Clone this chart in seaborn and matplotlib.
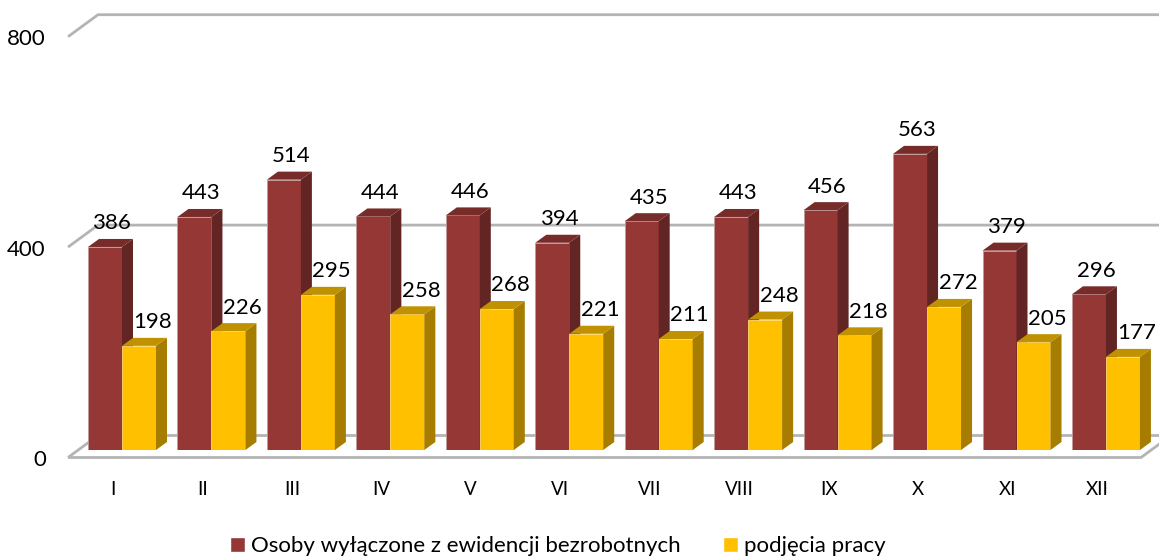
"""Monthly deregistrations from the unemployment register, drawn as pseudo-3D bars."""

import matplotlib
matplotlib.use("Agg")
import matplotlib.pyplot as plt
import pandas as pd
import seaborn as sns
from matplotlib.patches import Polygon
from matplotlib.transforms import ScaledTranslation

months = ["I", "II", "III", "IV", "V", "VI", "VII", "VIII", "IX", "X", "XI", "XII"]
removed = [386, 443, 514, 444, 446, 394, 435, 443, 456, 563, 379, 296]
hired = [198, 226, 295, 258, 268, 221, 211, 248, 218, 272, 205, 177]
series_names = ["Osoby wyłączone z ewidencji bezrobotnych", "podjęcia pracy"]
y_ticks = [0, 400, 800]

front_colors = ["#953735", "#FFC000"]
side_colors = ["#632523", "#A67D00"]
top_colors = ["#772C2A", "#C09100"]
edge_colors = ["#C49A99", "#FFD970"]
grid_color = "#B4B4B4"

W, H, DPI = 1159, 557, 100
PX_X = 89.45  # pixels per category
PX_Y = 0.526  # pixels per value unit


def px_dx(px):
    return px / PX_X


def px_dy(px):
    return px / PX_Y


sns.set_theme(style="white")
plt.rcParams["font.family"] = ["Lato", "DejaVu Sans"]

df = pd.DataFrame({
    "month": months * 2,
    "value": removed + hired,
    "series": [series_names[0]] * 12 + [series_names[1]] * 12,
})

fig = plt.figure(figsize=(W / DPI, H / DPI), dpi=DPI)
ax = fig.add_axes([68 / W, (H - 450) / H, (W - 68) / W, 450 / H])

sns.barplot(data=df, x="month", y="value", hue="series", palette=front_colors,
            width=0.76, gap=0, saturation=1, ax=ax, zorder=3)

ax.set_xlim(px_dx(68 - 122), px_dx(W - 122))
ax.set_ylim(0, px_dy(450))
ax.set_xlabel("")
ax.set_ylabel("")
sns.despine(ax=ax, left=True, bottom=True, top=True, right=True)

# back wall and floor lines
left, right = ax.get_xlim()
wall_dx = px_dx(30)
front_shift = px_dy(-7.5)
back_shift = px_dy(14.5)
line_kw = dict(color=grid_color, lw=2, clip_on=False, zorder=1, solid_capstyle="butt")
for tick in y_ticks:
    ax.plot([left, left + wall_dx, right], [tick + front_shift, tick + back_shift, tick + back_shift], **line_kw)
floor_end = left + px_dx(1141 - 68)
ax.plot([left, floor_end, floor_end + wall_dx], [front_shift, front_shift, back_shift], **line_kw)

# depth faces and value labels for each bar
depth_x = px_dx(11)
depth_y = px_dy(8)
label_shift = [5, 10]
for s, container in enumerate(ax.containers):
    for bar in container:
        x0 = bar.get_x()
        x1 = x0 + bar.get_width()
        h = bar.get_height()
        bar.set_zorder(3 + s)
        bar.set_edgecolor(edge_colors[s])
        bar.set_linewidth(0.6)
        side = [(x1, 0), (x1 + depth_x, depth_y), (x1 + depth_x, h + depth_y), (x1, h)]
        top = [(x0, h), (x0 + depth_x, h + depth_y), (x1 + depth_x, h + depth_y), (x1, h)]
        ax.add_patch(Polygon(side, closed=True, fc=side_colors[s], ec="none", zorder=3.5 + s))
        ax.add_patch(Polygon(top, closed=True, fc=top_colors[s], ec="none", zorder=3.5 + s))
        ax.annotate(f"{h:.0f}", ((x0 + x1) / 2, h), xytext=(label_shift[s], 17), textcoords="offset points",
                    ha="center", va="center", fontsize=16, color="black", zorder=10, annotation_clip=False)

# ticks
ax.set_yticks(y_ticks)
ax.tick_params(axis="y", length=0, pad=16, labelsize=16, labelcolor="black")
ax.tick_params(axis="x", length=0, pad=22, labelsize=13.5, labelcolor="black")
y_shift = ScaledTranslation(0, -8 / DPI, fig.dpi_scale_trans)
for label in ax.get_yticklabels():
    label.set_transform(label.get_transform() + y_shift)
x_shift = ScaledTranslation(-9 / DPI, 0, fig.dpi_scale_trans)
for label in ax.get_xticklabels():
    label.set_transform(label.get_transform() + x_shift)

handles, labels = ax.get_legend_handles_labels()
ax.legend(handles, labels, ncol=2, frameon=False, fontsize=16, loc="center",
          bbox_to_anchor=(558 / W, 1 - 546 / H), bbox_transform=fig.transFigure,
          handlelength=0.65, handleheight=0.65, handletextpad=0.3, columnspacing=1.9,
          borderpad=0, labelcolor="black")

fig.savefig("out.png", dpi=DPI)
